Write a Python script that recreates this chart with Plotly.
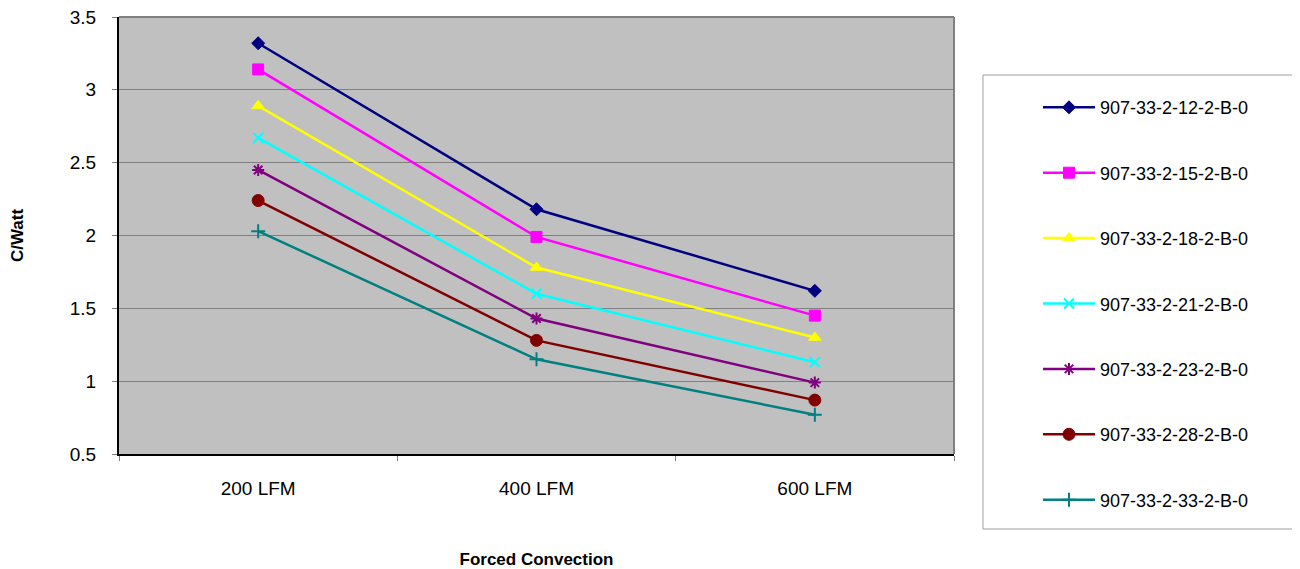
import plotly.graph_objects as go

# Forced convection airflow categories
airflow = ["200 LFM", "400 LFM", "600 LFM"]

# thermal resistance (C/Watt) per heatsink part number
hs_12 = [3.32, 2.18, 1.62]
hs_15 = [3.14, 1.99, 1.45]
hs_18 = [2.89, 1.78, 1.30]
hs_21 = [2.67, 1.60, 1.13]
hs_23 = [2.45, 1.43, 0.99]
hs_28 = [2.24, 1.28, 0.87]
hs_33 = [2.03, 1.15, 0.77]

series = [
    ("907-33-2-12-2-B-0", hs_12, "#000080", "diamond", 10),
    ("907-33-2-15-2-B-0", hs_15, "#FF00FF", "square", 11),
    ("907-33-2-18-2-B-0", hs_18, "#FFFF00", "triangle-up", 11),
    ("907-33-2-21-2-B-0", hs_21, "#00FFFF", "x-thin-open", 10),
    ("907-33-2-23-2-B-0", hs_23, "#800080", "asterisk-open", 10),
    ("907-33-2-28-2-B-0", hs_28, "#800000", "circle", 12),
    ("907-33-2-33-2-B-0", hs_33, "#008080", "cross-thin-open", 10),
]

fig = go.Figure()
for i, (name, vals, color, sym, size) in enumerate(series):
    open_sym = sym.endswith("open")
    fig.add_trace(go.Scatter(
        x=airflow, y=vals, name=name, mode="lines+markers",
        line=dict(color=color, width=2.5),
        marker=dict(symbol=sym, size=size, color=color,
                    line=dict(color=color, width=2 if open_sym else 1)),
        legendgroup=str(i),
    ))

# page body adds an 8px margin, so the figure is drawn 8px smaller
fig.update_layout(
    width=1292, height=561,
    margin=dict(l=111, r=346, t=9, b=115, autoexpand=False),
    paper_bgcolor="white",
    plot_bgcolor="#C0C0C0",
    font=dict(family="Liberation Sans, Arial, sans-serif", size=19, color="black"),
    legend=dict(
        x=1.1006, y=0.835, xanchor="left", yanchor="top",
        traceorder="grouped", tracegroupgap=39,
        itemwidth=52,
        maxheight=520,
        font=dict(size=18),
        bgcolor="rgba(0,0,0,0)",
    ),
    shapes=[
        # legend frame (open on the right, runs off the edge)
        dict(type="rect", xref="paper", yref="paper",
             x0=1.0347, x1=1.6, y0=(453 - 528) / 437, y1=(453 - 74) / 437,
             line=dict(width=0), fillcolor="white", layer="below"),
        dict(type="path", xref="paper", yref="paper",
             path="M 1.6,{b} L 1.0347,{b} L 1.0347,{t} L 1.6,{t}".format(
                 b=(453 - 528) / 437, t=(453 - 74) / 437),
             line=dict(color="#A0A0A0", width=1), layer="below"),
        # top / right plot border
        dict(type="line", xref="paper", yref="paper", x0=0, x1=1, y0=1, y1=1,
             line=dict(color="#808080", width=2)),
        dict(type="line", xref="paper", yref="paper", x0=1, x1=1, y0=0, y1=1,
             line=dict(color="#808080", width=2)),
    ],
)

fig.update_xaxes(
    type="category", range=[-0.5, 2.5], automargin=False,
    showline=True, linecolor="black", linewidth=2,
    ticks="outside", tickson="boundaries", ticklen=5, tickcolor="#808080",
    ticklabelstandoff=16,
    showgrid=False, zeroline=False,
    title=dict(text="<b>Forced Convection</b>", standoff=66, font=dict(size=17)),
)
fig.update_yaxes(
    range=[0.5, 3.5], dtick=0.5, tick0=0.5, automargin=False,
    showline=True, linecolor="black", linewidth=2,
    ticks="outside", ticklen=5, tickcolor="#808080",
    ticklabelstandoff=12, ticklabeloverflow="allow",
    showgrid=True, gridcolor="#808080", gridwidth=1,
    zeroline=False,
    title=dict(text="<b>C/Watt</b>", standoff=54, font=dict(size=17)),
)

fig.write_html("out.html")
